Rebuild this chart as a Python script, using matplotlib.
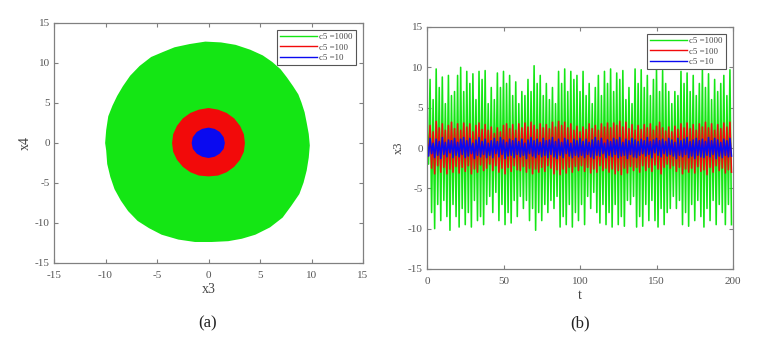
import numpy as np
import matplotlib
matplotlib.use('Agg')
import matplotlib.pyplot as plt
from matplotlib.lines import Line2D

plt.rcParams['font.family'] = ['Liberation Serif', 'DejaVu Serif']
plt.rcParams['axes.unicode_minus'] = False

# ---- panel (a): outline of each filled x3-x4 region
green_x = [-0.3, 1.2, 2.6, 4.0, 5.2, 6.1, 6.9, 7.5, 8.1, 8.6,
           8.9, 9.2, 9.4, 9.6, 9.7, 9.6, 9.4, 9.1, 8.7, 7.9,
           7.1, 5.9, 4.5, 3.2, 1.9, 0.3, -1.3, -2.9, -4.5, -5.7,
           -6.8, -7.7, -8.4, -9.0, -9.4, -9.7, -9.8, -9.9, -9.8, -9.6,
           -9.2, -8.75, -8.2, -7.5, -6.6, -5.5, -4.4, -3.25, -1.8]
green_y = [12.5, 12.4, 12.1, 11.5, 10.8, 10.0, 9.1, 8.1, 7.0, 6.0,
           5.0, 3.8, 2.5, 1.1, -0.3, -1.8, -3.4, -4.9, -6.3, -7.8,
           -9.2, -10.4, -11.3, -11.8, -12.1, -12.2, -12.2, -11.9, -11.3, -10.5,
           -9.6, -8.4, -7.1, -5.7, -4.2, -2.6, -0.9, 0.0, 1.6, 3.3,
           4.6, 5.8, 7.0, 8.3, 9.5, 10.6, 11.2, 11.8, 12.2]
red_x = [0, 0.9, 1.7, 2.4, 2.95, 3.3, 3.4, 3.3, 2.95, 2.4, 1.7, 0.9,
         0, -0.9, -1.7, -2.4, -2.95, -3.3, -3.4, -3.3, -2.95, -2.4, -1.7, -0.9]
red_y = [4.2, 4.0, 3.6, 2.95, 2.05, 1.05, 0, -1.05, -2.0, -2.85, -3.5, -3.9,
         -4.0, -3.9, -3.5, -2.85, -2.0, -1.05, 0, 1.05, 2.05, 2.95, 3.6, 4.0]
blue_x = [0, 0.55, 1.0, 1.35, 1.45, 1.35, 1.0, 0.55,
          0, -0.57, -1.05, -1.4, -1.5, -1.4, -1.05, -0.57]
blue_y = [1.75, 1.6, 1.25, 0.65, 0, -0.65, -1.2, -1.55,
          -1.7, -1.55, -1.2, -0.65, 0, 0.65, 1.25, 1.6]

# ---- panel (b): successive peaks (t = 0,2,..) and troughs (t = 1,3,..) of x3
green_up = [2.5, 8.5, 6.0, 9.8, 7.5, 8.8, 5.5, 9.0, 6.5, 7.0,
            9.0, 10.0, 7.0, 9.5, 8.0, 9.2, 6.0, 9.5, 8.5, 9.6,
            5.5, 7.5, 6.0, 9.3, 7.5, 9.5, 8.0, 9.0, 6.5, 8.2,
            5.5, 7.0, 6.5, 8.5, 7.0, 10.2, 8.0, 9.0, 6.5, 8.0,
            6.0, 7.5, 5.5, 9.5, 8.0, 9.8, 7.0, 9.5, 8.5, 9.0,
            7.0, 9.5, 6.5, 8.0, 5.5, 7.5, 9.0, 6.5, 9.5, 8.0,
            9.8, 7.0, 9.3, 8.5, 9.6, 6.0, 7.5, 5.5, 9.8, 8.0,
            9.7, 7.5, 9.0, 6.5, 8.5, 9.8, 7.0, 9.6, 8.0, 7.0,
            5.5, 7.0, 6.5, 9.5, 8.0, 9.3, 7.0, 9.0, 6.5, 8.0,
            9.7, 7.5, 9.2, 6.0, 8.5, 7.0, 8.0, 9.0, 6.5, 9.7]
green_dn = [-2.0, -8.0, -10.0, -7.0, -9.0, -6.5, -8.5, -10.2, -7.0, -8.5,
            -9.8, -7.5, -9.5, -8.0, -9.8, -6.5, -9.0, -8.5, -9.5, -7.0,
            -6.0, -8.0, -5.5, -9.0, -7.0, -9.5, -8.0, -9.3, -6.5, -8.5,
            -6.0, -7.5, -6.5, -9.0, -7.5, -10.2, -8.0, -9.0, -7.0, -8.0,
            -6.5, -7.5, -6.0, -9.8, -8.5, -9.5, -7.0, -9.8, -8.0, -9.0,
            -7.0, -9.5, -6.0, -7.5, -5.5, -8.0, -9.3, -7.0, -9.5, -8.0,
            -9.8, -7.0, -9.5, -8.5, -9.7, -6.5, -7.0, -6.0, -9.8, -8.5,
            -9.7, -7.0, -9.0, -6.5, -9.0, -9.8, -7.5, -9.5, -8.0, -7.5,
            -6.0, -7.5, -6.5, -9.5, -8.0, -9.7, -7.0, -9.0, -6.5, -8.5,
            -9.8, -7.5, -9.0, -6.5, -9.5, -7.0, -8.0, -9.5, -7.0, -9.5]
red_up = [1.0, 2.8, 2.0, 3.3, 2.5, 3.0, 2.2, 2.8, 3.2, 2.4,
          3.0, 2.2, 3.1, 2.6, 3.0, 2.0, 2.8, 3.1, 2.3, 2.9,
          2.2, 2.6, 1.8, 2.5, 2.0, 2.8, 3.0, 2.4, 2.9, 2.2,
          3.0, 2.5, 3.1, 2.6, 3.2, 2.8, 2.3, 3.0, 2.5, 2.9,
          2.4, 3.2, 2.6, 3.3, 2.8, 3.2, 2.5, 3.0, 2.2, 2.7,
          2.0, 2.6, 2.3, 3.0, 2.4, 2.8, 2.2, 3.0, 2.6, 3.1,
          2.5, 3.1, 2.8, 3.3, 2.6, 3.2, 2.4, 2.9, 2.2, 2.8,
          2.3, 2.9, 2.5, 3.0, 2.2, 2.7, 3.2, 2.5, 2.1, 2.6,
          2.0, 2.7, 2.3, 3.0, 2.5, 3.1, 2.4, 2.9, 2.2, 3.0,
          2.6, 3.2, 2.5, 3.0, 2.2, 2.9, 2.4, 3.1, 2.6, 3.2]
red_dn = [-1.0, -2.5, -3.2, -2.2, -3.0, -2.4, -3.2, -2.6, -3.0, -2.3,
          -3.1, -2.4, -2.9, -2.2, -3.2, -2.6, -3.0, -2.1, -2.8, -2.5,
          -2.0, -2.8, -2.2, -3.0, -2.5, -3.2, -2.4, -2.9, -2.2, -2.7,
          -2.8, -2.3, -3.0, -2.5, -3.2, -2.6, -3.0, -2.4, -2.9, -2.2,
          -2.5, -3.2, -2.7, -3.3, -2.6, -3.1, -2.4, -3.0, -2.3, -2.8,
          -2.2, -2.9, -2.4, -3.1, -2.6, -3.0, -2.2, -2.8, -2.5, -3.0,
          -2.6, -3.2, -2.8, -3.3, -2.5, -3.1, -2.3, -2.8, -2.4, -3.0,
          -2.2, -2.8, -2.4, -2.9, -2.1, -2.6, -3.2, -2.4, -2.0, -2.5,
          -2.2, -2.9, -2.4, -3.2, -2.6, -3.0, -2.5, -3.1, -2.3, -2.9,
          -2.7, -3.3, -2.4, -3.0, -2.2, -2.8, -2.5, -3.1, -2.7, -3.0]
blue_up = [0.8, 1.2, 0.6, 1.1, 0.8, 1.3, 0.7, 1.0, 0.9, 1.2,
           0.7, 1.1, 1.3, 0.9, 1.2, 0.6, 1.0, 1.3, 0.8, 1.1,
           0.6, 0.9, 1.2, 0.8, 1.3, 1.0, 0.7, 1.1, 0.9, 1.2,
           0.8, 1.1, 0.6, 1.0, 1.3, 0.9, 1.1, 0.7, 1.2, 0.9,
           1.0, 1.3, 0.8, 1.1, 0.7, 1.2, 1.0, 0.6, 1.1, 0.9,
           1.2, 0.8, 1.1, 0.7, 1.0, 1.3, 0.9, 1.2, 0.6, 1.0,
           0.8, 1.2, 1.0, 1.3, 0.7, 1.1, 0.9, 1.2, 1.0, 0.8,
           1.1, 0.9, 1.3, 0.8, 1.0, 1.2, 0.9, 1.1, 0.8, 1.2,
           1.0, 0.7, 1.2, 0.9, 1.1, 1.3, 0.8, 1.0, 1.2, 0.9,
           1.1, 0.8, 1.3, 0.9, 1.2, 1.0, 0.7, 1.1, 0.9, 1.2]
blue_dn = [-1.0, -0.7, -1.2, -0.9, -1.3, -0.8, -1.1, -0.6, -1.2, -0.9,
           -1.1, -0.8, -1.2, -1.0, -0.7, -1.3, -0.9, -1.1, -0.8, -1.2,
           -0.9, -1.2, -0.7, -1.1, -0.8, -1.3, -1.0, -0.9, -1.2, -0.8,
           -1.1, -0.9, -1.3, -0.7, -1.0, -1.2, -0.8, -1.1, -0.9, -1.2,
           -0.8, -1.1, -1.3, -0.9, -1.2, -0.7, -1.0, -1.2, -0.9, -1.1,
           -0.9, -1.2, -0.8, -1.1, -1.3, -0.9, -1.0, -0.7, -1.2, -0.9,
           -1.1, -0.8, -1.2, -1.0, -0.9, -1.3, -0.8, -1.1, -1.2, -0.9,
           -0.7, -1.0, -0.8, -1.2, -0.6, -0.9, -1.1, -0.7, -1.0, -0.8,
           -1.0, -1.3, -0.9, -1.1, -0.8, -1.2, -1.0, -1.3, -0.9, -1.1,
           -1.2, -0.9, -1.1, -0.8, -1.3, -1.0, -1.2, -0.9, -1.1, -1.0]

labels = ['c5 =1000', 'c5 =100', 'c5 =10']
colors = ['#14e614', '#f20a0a', '#0a0af0']


def zigzag(up, dn):
    y = np.empty(2 * len(up))
    y[0::2] = up
    y[1::2] = dn
    return np.arange(len(y)), y


def style(ax):
    for s in ax.spines.values():
        s.set_color('#808080')
        s.set_linewidth(0.9)
    ax.tick_params(direction='in', top=True, right=True, length=3, width=0.8,
                   color='#808080', labelcolor='#555555', labelsize=8)
    ax.tick_params(axis='x', pad=6)
    ax.tick_params(axis='y', pad=3)


def legend(ax):
    h = [Line2D([], [], color=c, lw=1) for c in colors]
    leg = ax.legend(h, labels, loc='upper right', fontsize=6.3, frameon=True,
                    fancybox=False, framealpha=1, edgecolor='#555555',
                    handlelength=4.2, handletextpad=0.3, labelspacing=0.25,
                    borderpad=0.35, borderaxespad=0.8)
    leg.get_frame().set_linewidth(0.8)
    for t in leg.get_texts():
        t.set_color('#444444')


fig = plt.figure(figsize=(7.67, 3.56), dpi=100)

ax1 = fig.add_axes([54 / 767, 1 - 263 / 356, 309 / 767, 240 / 356])
for xs, ys, c in [(green_x, green_y, colors[0]), (red_x, red_y, colors[1]),
                  (blue_x, blue_y, colors[2])]:
    ax1.fill(xs, ys, facecolor=c, edgecolor=c, lw=2.0, joinstyle='round')
ax1.set_xlim(-15, 15)
ax1.set_ylim(-15, 15)
ax1.set_xticks(np.arange(-15, 16, 5))
ax1.set_yticks(np.arange(-15, 16, 5))
ax1.set_xlabel('x3', fontsize=10, color='#444444', labelpad=2)
ax1.set_ylabel('x4', fontsize=10, color='#444444', labelpad=2)
style(ax1)
legend(ax1)

ax2 = fig.add_axes([427 / 767, 1 - 269 / 356, 306 / 767, 242 / 356])
for up, dn, c in [(green_up, green_dn, colors[0]), (red_up, red_dn, colors[1]),
                  (blue_up, blue_dn, colors[2])]:
    t, y = zigzag(up, dn)
    ax2.plot(t, y, color=c, lw=1.15)
ax2.set_xlim(0, 200)
ax2.set_ylim(-15, 15)
ax2.set_xticks(np.arange(0, 201, 50))
ax2.set_yticks(np.arange(-15, 16, 5))
ax2.set_xlabel('t', fontsize=10, color='#444444', labelpad=2)
ax2.set_ylabel('x3', fontsize=9, color='#444444', labelpad=2)
style(ax2)
legend(ax2)

fig.text(208 / 767, 1 - 323 / 356, '(a)', ha='center', va='center', fontsize=12, color='#222222')
fig.text(580 / 767, 1 - 323 / 356, '(b)', ha='center', va='center', fontsize=12, color='#222222')

fig.savefig('out.png', dpi=100)
